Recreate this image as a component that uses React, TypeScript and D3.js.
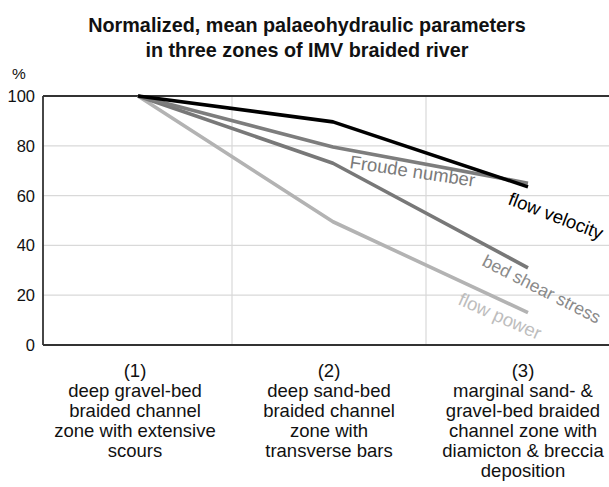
import React, { useEffect, useRef } from 'react';
import * as d3 from 'd3';

const zones = ['(1)', '(2)', '(3)'];
const zoneLabels = [
  ['(1)', 'deep gravel-bed', 'braided channel', 'zone with extensive', 'scours'],
  ['(2)', 'deep sand-bed', 'braided channel', 'zone with', 'transverse bars'],
  ['(3)', 'marginal sand- &', 'gravel-bed braided', 'channel zone with', 'diamicton & breccia', 'deposition'],
];
const yTicks = [0, 20, 40, 60, 80, 100];

const flowVelocity = [100, 89.6, 63.5];
const froudeNumber = [100, 79.5, 65];
const bedShearStress = [100, 73, 31];
const flowPower = [100, 49.5, 13];

const series = [
  { name: 'flow power', values: flowPower, color: '#b3b3b3', label: { x: 457, y: 304, r: 24, c: '#bdbdbd', f: 18.5 } },
  { name: 'bed shear stress', values: bedShearStress, color: '#787878', label: { x: 481, y: 265, r: 27, c: '#8a8a8a', f: 17.6 } },
  { name: 'Froude number', values: froudeNumber, color: '#7d7d7d', label: { x: 349, y: 168, r: 8.5, c: '#7a7a7a', f: 18.5 } },
  { name: 'flow velocity', values: flowVelocity, color: '#000000', label: { x: 507, y: 204, r: 21, c: '#000000', f: 18.5 } },
];

const App = () => {
  const svgRef = useRef<SVGSVGElement>(null);

  useEffect(() => {
    const svg = d3.select(svgRef.current);
    svg.selectAll('*').remove();

    const width = 609;
    const height = 487;
    const left = 43;
    const top = 96;
    const bottom = 345;

    // zone bands (grid + labels) and point positions of the data
    const x = d3.scaleBand().domain(zones).range([38, 620]);
    const xp = d3.scalePoint().domain(zones).range([138, 528]);
    const y = d3.scaleLinear().domain([0, 100]).range([bottom, top]);

    svg.attr('width', width).attr('height', height).style('font-family', '"Liberation Sans", Arial, sans-serif');

    // title
    const title = svg.append('text').attr('text-anchor', 'middle').style('font-weight', 'bold').style('font-size', '19.8px').attr('fill', '#111');
    title.append('tspan').attr('x', 307).attr('y', 32).text('Normalized, mean palaeohydraulic parameters');
    title.append('tspan').attr('x', 307).attr('y', 57).text('in three zones of IMV braided river');

    // grid
    svg.selectAll('.hgrid')
      .data(yTicks.filter(d => d > 0 && d < 100))
      .enter()
      .append('line')
      .attr('x1', left).attr('x2', width)
      .attr('y1', d => y(d)).attr('y2', d => y(d))
      .attr('stroke', '#d9d9d9').attr('stroke-width', 1.2);

    svg.selectAll('.vgrid')
      .data(zones.slice(1))
      .enter()
      .append('line')
      .attr('x1', d => x(d)!).attr('x2', d => x(d)!)
      .attr('y1', top).attr('y2', bottom)
      .attr('stroke', '#d9d9d9').attr('stroke-width', 1.2);

    // frame
    svg.append('line').attr('x1', left).attr('x2', width).attr('y1', y(100)).attr('y2', y(100)).attr('stroke', '#333').attr('stroke-width', 1.8);
    svg.append('line').attr('x1', left).attr('x2', width).attr('y1', y(0)).attr('y2', y(0)).attr('stroke', '#333').attr('stroke-width', 1.8);
    svg.append('line').attr('x1', left).attr('x2', left).attr('y1', y(100)).attr('y2', y(0)).attr('stroke', '#333').attr('stroke-width', 1.8);

    // y tick labels
    svg.selectAll('.ytick')
      .data(yTicks)
      .enter()
      .append('text')
      .attr('x', 35)
      .attr('y', d => y(d))
      .attr('dy', '0.36em')
      .attr('text-anchor', 'end')
      .style('font-size', '16.5px')
      .attr('fill', '#111')
      .text(d => d);

    svg.append('text').attr('x', 12).attr('y', 79).style('font-size', '15.5px').attr('fill', '#111').text('%');

    // lines
    const line = d3.line<number>()
      .x((_, i) => xp(zones[i])!)
      .y(d => y(d));

    series.forEach(s => {
      svg.append('path')
        .attr('d', line(s.values))
        .attr('fill', 'none')
        .attr('stroke', s.color)
        .attr('stroke-width', 3.6)
        .attr('stroke-linejoin', 'round');
    });

    series.forEach(s => {
      svg.append('text')
        .attr('transform', `translate(${s.label.x},${s.label.y}) rotate(${s.label.r})`)
        .style('font-size', `${s.label.f}px`)
        .attr('fill', s.label.c)
        .text(s.name);
    });

    // category labels
    zoneLabels.forEach((lines, i) => {
      const t = svg.append('text')
        .attr('text-anchor', 'middle')
        .style('font-size', '18.5px')
        .attr('fill', '#111');
      lines.forEach((l, j) => {
        t.append('tspan')
          .attr('x', x(zones[i])! + x.bandwidth() / 2)
          .attr('y', 377 + j * 20)
          .text(l);
      });
    });
  }, []);

  return <svg ref={svgRef} style={{ position: 'absolute', left: 0, top: 0 }}></svg>;
};

export default App;
